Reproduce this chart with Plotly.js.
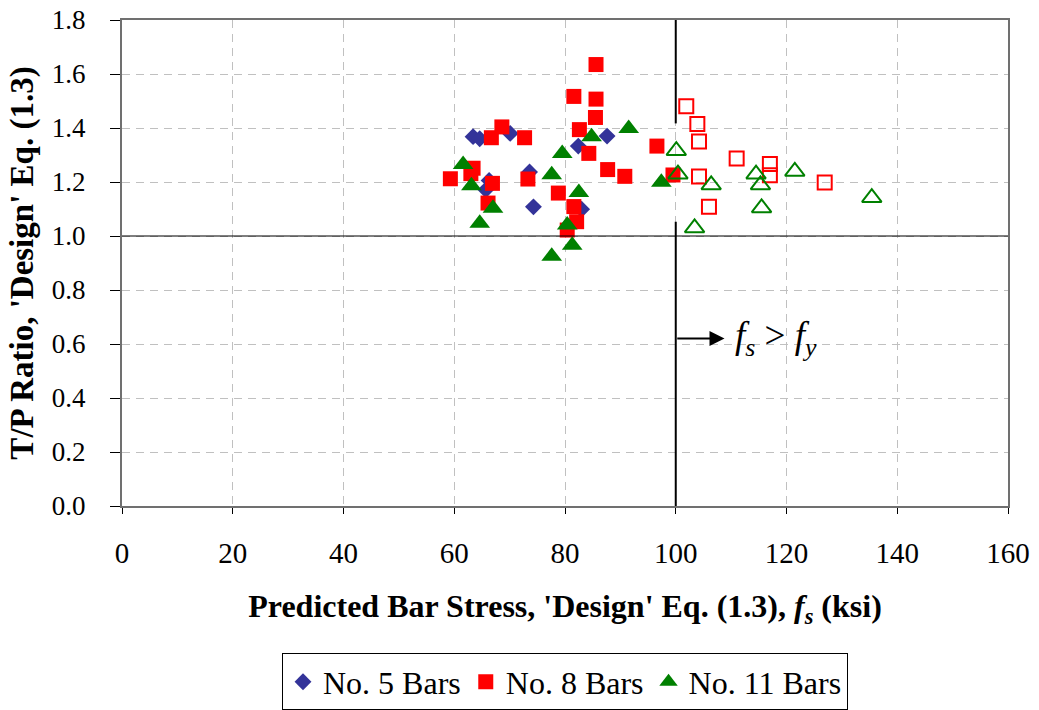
<!DOCTYPE html>
<html>
<head>
<meta charset="utf-8">
<script src="https://cdn.plot.ly/plotly-3.0.1.min.js"></script>
<style>html,body{margin:0;padding:0;background:#fff;}#chart{width:1039px;height:710px;}</style>
</head>
<body>
<div id="chart"></div>
<script>
// No. 5 bars
const n5x = [63.4, 64.6, 70.1, 73.6, 66.3, 65.7, 74.3, 82.4, 87.6, 83.0];
const n5y = [1.368, 1.360, 1.380, 1.237, 1.206, 1.171, 1.108, 1.333, 1.370, 1.099];
// No. 8 bars (fs <= fy, filled)
const n8x = [85.6, 81.6, 85.6, 85.5, 68.6, 66.7, 72.7, 82.6, 84.3, 59.3, 63.4, 63.0, 66.9, 73.3, 66.1, 78.8, 87.7, 90.8, 96.6, 99.5, 81.6, 82.1, 80.4];
const n8y = [1.635, 1.517, 1.507, 1.439, 1.404, 1.364, 1.364, 1.394, 1.306, 1.212, 1.251, 1.231, 1.195, 1.211, 1.122, 1.159, 1.246, 1.221, 1.333, 1.226, 1.109, 1.053, 1.022];
// No. 8 bars (fs > fy, open)
const n8ox = [101.9, 103.9, 104.2, 111.0, 117.0, 117.0, 104.2, 106.0, 126.9];
const n8oy = [1.481, 1.415, 1.350, 1.287, 1.267, 1.225, 1.220, 1.108, 1.198];
// No. 11 bars (filled)
const n11x = [61.6, 63.1, 67.0, 64.6, 79.5, 77.6, 84.8, 91.5, 82.5, 80.4, 81.3, 77.6, 97.4];
const n11y = [1.265, 1.186, 1.103, 1.047, 1.306, 1.227, 1.368, 1.398, 1.161, 1.041, 0.966, 0.925, 1.199];
// No. 11 bars (open)
const n11ox = [100.1, 100.4, 106.4, 114.5, 115.3, 115.5, 121.5, 103.4, 135.4];
const n11oy = [1.316, 1.229, 1.189, 1.229, 1.189, 1.104, 1.239, 1.030, 1.142];

const xTicks = [0, 20, 40, 60, 80, 100, 120, 140, 160];
const yTicks = [0.0, 0.2, 0.4, 0.6, 0.8, 1.0, 1.2, 1.4, 1.6, 1.8];
const yTickText = ["0.0", "0.2", "0.4", "0.6", "0.8", "1.0", "1.2", "1.4", "1.6", "1.8"];

const fy = 100;          // yield line
const ratioOne = 1.0;    // T/P = 1 line
const gapLow = 1.053, gapHigh = 1.417;
const arrowY = 0.62, arrowTip = 108.8;

const FONT = "Liberation Serif";
const blue = "#333399", red = "#FF0000", green = "#008000";

const traces = [
  {x: n5x, y: n5y, type: "scatter", mode: "markers", name: "No. 5 Bars",
   marker: {symbol: "diamond", size: 13, color: blue}},
  {x: n8x, y: n8y, type: "scatter", mode: "markers", name: "No. 8 Bars",
   marker: {symbol: "square", size: 15, color: red}},
  {x: n8ox, y: n8oy, type: "scatter", mode: "markers", name: "No. 8 Bars (open)", showlegend: false,
   marker: {symbol: "square-open", size: 14, color: red, line: {width: 2, color: red}}},
  {x: n11x, y: n11y, type: "scatter", mode: "markers", name: "No. 11 Bars",
   marker: {symbol: "triangle-up", size: 18, color: green}},
  {x: n11ox, y: n11oy, type: "scatter", mode: "markers", name: "No. 11 Bars (open)", showlegend: false,
   marker: {symbol: "triangle-up-open", size: 17, color: green, line: {width: 2, color: green}}}
];

const layout = {
  width: 1039, height: 710,
  margin: {l: 122, r: 31, t: 20, b: 204, autoexpand: false},
  paper_bgcolor: "#fff", plot_bgcolor: "#fff",
  font: {family: FONT, color: "#000", size: 28},
  showlegend: true,
  legend: {orientation: "h", x: 0.5, xanchor: "center", y: -0.362, yanchor: "middle",
           bordercolor: "#000", borderwidth: 1, font: {family: FONT, size: 32},
           itemwidth: 30, tracegroupgap: 0},
  xaxis: {range: [0, 160], tickvals: xTicks, ticktext: xTicks.map(String), automargin: false,
          showgrid: true, gridcolor: "#c0c0c0", griddash: "8px,6px", gridwidth: 1,
          zeroline: false, showline: true, linecolor: "#707070", linewidth: 2, mirror: true,
          ticks: "outside", ticklen: 6, tickcolor: "#000", ticklabelstandoff: 14,
          tickfont: {family: FONT, size: 29},
          title: {text: "<b>Predicted Bar Stress, 'Design' Eq. (1.3), <i>f</i><sub><i>s</i></sub> (ksi)</b>",
                  font: {family: FONT, size: 32}, standoff: 27}},
  yaxis: {range: [0, 1.8], tickvals: yTicks, ticktext: yTickText, automargin: false,
          showgrid: true, gridcolor: "#c0c0c0", griddash: "8px,6px", gridwidth: 1,
          zeroline: false, showline: true, linecolor: "#707070", linewidth: 2, mirror: true,
          ticks: "outside", ticklen: 10, tickcolor: "#000", ticklabelstandoff: 19,
          tickfont: {family: FONT, size: 27},
          title: {text: "<b>T/P Ratio, 'Design' Eq. (1.3)</b>", font: {family: FONT, size: 33}, standoff: 8}},
  shapes: [
    {type: "line", xref: "x", yref: "y", x0: 0, x1: 160, y0: ratioOne, y1: ratioOne, line: {color: "#000", width: 1.2}},
    {type: "line", xref: "x", yref: "y", x0: fy, x1: fy, y0: 0, y1: gapLow, line: {color: "#000", width: 2}},
    {type: "line", xref: "x", yref: "y", x0: fy, x1: fy, y0: gapHigh, y1: 1.8, line: {color: "#000", width: 2}}
  ],
  annotations: [
    {x: arrowTip, y: arrowY, xref: "x", yref: "y", ax: fy, ay: arrowY, axref: "x", ayref: "y",
     showarrow: true, arrowhead: 2, arrowsize: 1.5, arrowwidth: 2, arrowcolor: "#000", text: ""},
    {x: 110.4, y: arrowY, xref: "x", yref: "y", xanchor: "left", yanchor: "middle", showarrow: false,
     text: "<i>f</i><sub><i>s</i></sub> > <i>f</i><sub><i>y</i></sub>", font: {family: FONT, size: 37}}
  ]
};

Plotly.newPlot("chart", traces, layout, {displayModeBar: false, staticPlot: true});
</script>
</body>
</html>
